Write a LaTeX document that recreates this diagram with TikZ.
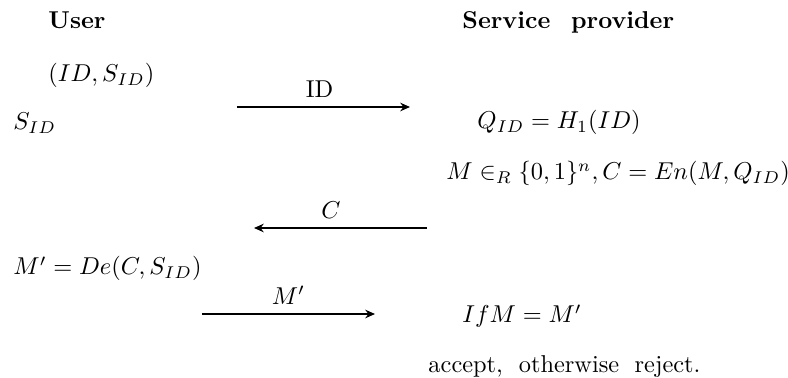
\documentclass[tikz,border=0pt]{standalone}
\usetikzlibrary{arrows.meta}
\begin{document}
\begin{tikzpicture}[x=0.41pt,y=-0.41pt,
  txt/.style={inner sep=0pt,anchor=base west},
  msg/.style={line width=0.8pt,-{Stealth[length=4pt,width=3.5pt]}},
  lbl/.style={inner sep=0pt,anchor=base,yshift=3.8pt}]
\useasboundingbox (0,0) rectangle (788,378);
\node[txt] (user) at (48,29) {\textbf{User}};
\node[txt] (sp) at (462,29) {\textbf{Service\hspace{8.5pt}provider}};
\node[txt] (pair) at (48,82) {$(ID,S_{ID})$};
\node[txt] (sid) at (13,130) {$S_{ID}$};
\node[txt] (q) at (477,129) {$Q_{ID}=H_1(ID)$};
\node[txt] (m) at (446,180) {$M\in_R\{0,1\}^n,C=En(M,Q_{ID})$};
\node[txt] (dec) at (13,275) {$M'=De(C,S_{ID})$};
\node[txt] (chk) at (462,323) {$IfM=M'$};
\node[txt] (acc) at (428,373) {accept,\hspace{6.5pt}otherwise\hspace{6.3pt}reject.};
\coordinate (a1s) at (237,107); \coordinate (a1e) at (410,107);
\coordinate (a2s) at (427,228); \coordinate (a2e) at (254,228);
\coordinate (a3s) at (202,314); \coordinate (a3e) at (375,314);
\draw[msg] (a1s) -- (a1e) node[lbl,pos=0.477] (l1) {ID};
\draw[msg] (a2s) -- (a2e) node[lbl,pos=0.555] (l2) {$C$};
\draw[msg] (a3s) -- (a3e) node[lbl,pos=0.5] (l3) {$M'$};
\end{tikzpicture}
\end{document}
